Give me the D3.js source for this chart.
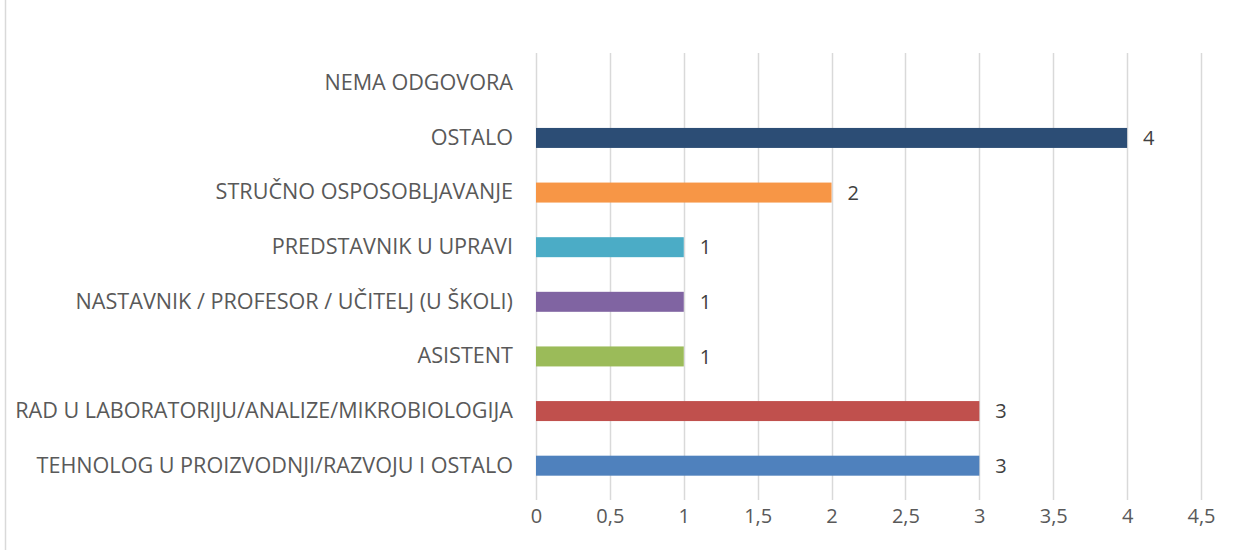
<!DOCTYPE html>
<html>
<head>
<meta charset="utf-8">
<script src="https://cdn.jsdelivr.net/npm/d3@7"></script>
<style>
  body { margin: 0; background: #fff; }
  svg { display: block; font-family: 'Open Sans', sans-serif; }
</style>
</head>
<body>
<div class="chart"></div>
<script>
'use strict';

const categories = [
  'NEMA ODGOVORA',
  'OSTALO',
  'STRUČNO OSPOSOBLJAVANJE',
  'PREDSTAVNIK U UPRAVI',
  'NASTAVNIK / PROFESOR / UČITELJ (U ŠKOLI)',
  'ASISTENT',
  'RAD U LABORATORIJU/ANALIZE/MIKROBIOLOGIJA',
  'TEHNOLOG U PROIZVODNJI/RAZVOJU I OSTALO'
];
const values = [0, 4, 2, 1, 1, 1, 3, 3];
const colors = ['#2c4d75', '#2c4d75', '#f79646', '#4bacc6', '#8064a2', '#9bbb59', '#c0504d', '#4f81bd'];
const ticks = [0, 0.5, 1, 1.5, 2, 2.5, 3, 3.5, 4, 4.5];

const FULL_WIDTH = 1234;
const FULL_HEIGHT = 550;
const margin = { top: 56, right: 33, bottom: 57, left: 536 };
const WIDTH = FULL_WIDTH - margin.left - margin.right;
const HEIGHT = FULL_HEIGHT - margin.top - margin.bottom;

const data = categories.map((c, i) => ({ name: c, value: values[i], color: colors[i] }));

const root = d3.select('.chart')
  .append('svg')
    .attr('width', FULL_WIDTH)
    .attr('height', FULL_HEIGHT);

// chart area border (only left edge is visible)
root.append('line')
  .attr('x1', 5.5).attr('x2', 5.5)
  .attr('y1', 0).attr('y2', FULL_HEIGHT)
  .attr('stroke', '#d9d9d9')
  .attr('stroke-width', 1.5);

const svg = root.append('g')
  .attr('transform', 'translate(' + margin.left + ',' + margin.top + ')');

const x = d3.scaleLinear()
  .domain([0, 4.5])
  .range([0, WIDTH]);

const y = d3.scaleBand()
  .domain(categories)
  .range([0, HEIGHT])
  .paddingInner(0.634)
  .paddingOuter(0.317);

// vertical gridlines
svg.append('g')
  .selectAll('line')
  .data(ticks)
  .enter()
  .append('line')
    .attr('x1', (d) => Math.round(x(d)) + 0.5)
    .attr('x2', (d) => Math.round(x(d)) + 0.5)
    .attr('y1', -3)
    .attr('y2', HEIGHT + 7)
    .attr('stroke', '#d9d9d9')
    .attr('stroke-width', 1.5);

// x axis labels
const xAxis = svg.append('g')
  .attr('transform', 'translate(0,' + (HEIGHT + 7) + ')')
  .call(d3.axisBottom(x)
    .tickValues(ticks)
    .tickSize(0)
    .tickPadding(9)
    .tickFormat((d) => String(d).replace('.', ',')));
xAxis.select('.domain').remove();
xAxis.selectAll('text')
  .attr('font-size', '20px')
  .attr('font-family', "'Open Sans', sans-serif")
  .attr('fill', '#595959');

// category labels
const yAxis = svg.append('g')
  .call(d3.axisLeft(y).tickSize(0).tickPadding(23));
yAxis.select('.domain').remove();
yAxis.selectAll('text')
  .attr('font-size', '21.6px')
  .attr('font-family', "'Open Sans', sans-serif")
  .attr('fill', '#595959');

// bars
svg.selectAll('.bar')
  .data(data)
  .enter()
  .append('rect')
    .attr('class', 'bar')
    .attr('x', x(0))
    .attr('y', (d) => y(d.name))
    .attr('width', (d) => x(d.value) - x(0))
    .attr('height', y.bandwidth())
    .attr('fill', (d) => d.color);

// value labels
svg.selectAll('.label')
  .data(data.filter((d) => d.value > 0))
  .enter()
  .append('text')
    .attr('class', 'label')
    .attr('x', (d) => x(d.value) + 16)
    .attr('y', (d) => y(d.name) + y.bandwidth() / 2)
    .attr('dy', '0.36em')
    .attr('font-size', '20px')
    .attr('fill', '#404040')
    .text((d) => d.value);
</script>
</body>
</html>
